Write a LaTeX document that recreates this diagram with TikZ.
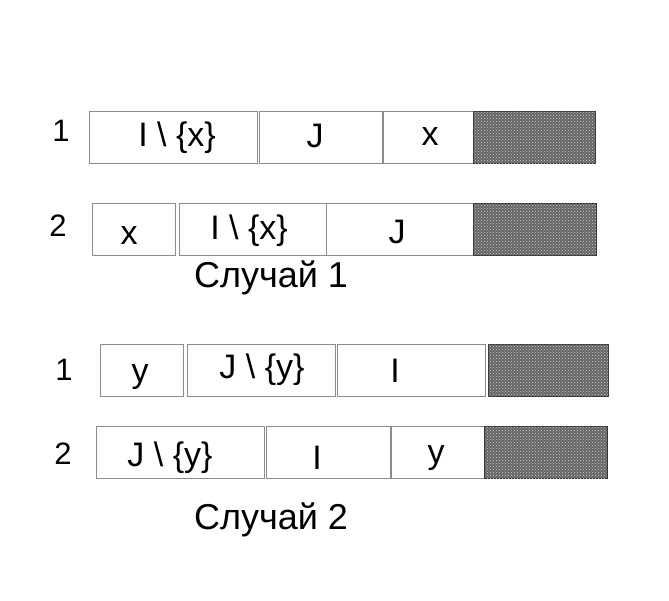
\documentclass[tikz,border=0pt]{standalone}
\usepackage{fontspec}
\setmainfont{Liberation Sans}
\usetikzlibrary{patterns,positioning}
\tikzset{
  cell/.style={draw=gray!90, line width=0.9pt, inner sep=0, minimum height=52pt, anchor=north west},
  tailbox/.style={cell, draw=gray!40!black, fill={rgb,255:red,100;green,100;blue,100},
    postaction={pattern=crosshatch dots, pattern color=gray!35}},
  txt/.style={anchor=base, inner sep=0, font=\fontsize{34}{40}\selectfont},
  numtxt/.style={txt, font=\fontsize{31}{36}\selectfont},
  casetxt/.style={anchor=base, inner sep=0, font=\fontsize{36}{42}\selectfont}
}
\newcommand{\setminusof}[2]{#1 \textbackslash{} \{#2\}}

\begin{document}
\begin{tikzpicture}[x=1pt,y=-1pt]
    \useasboundingbox (0,0) rectangle (669,600);
    % case 1, row 1
    \node[cell, minimum width=168pt] (a1) at (89,110.7) {};
    \node[cell, minimum width=123pt] (a2) at (259,110.7) {};
    \node[cell, minimum width=90pt] (a3) at (383,110.7) {};
    \node[tailbox, minimum width=122pt] (ag) at (473,110.7) {};
    % case 1, row 2
    \node[cell, minimum width=83pt] (b1) at (92,203) {};
    \node[cell, minimum width=147pt] (b2) at (179,203) {};
    \node[cell, minimum width=147pt] (b3) at (326,203) {};
    \node[tailbox, minimum width=123pt] (bg) at (473,203) {};
    % case 2, row 1
    \node[cell, minimum width=83.5pt] (c1) at (99.5,343.7) {};
    \node[cell, minimum width=147.5pt] (c2) at (187,343.7) {};
    \node[cell, minimum width=148pt] (c3) at (336.5,343.7) {};
    \node[tailbox, minimum width=120.6pt] (cg) at (487.7,343.7) {};
    % case 2, row 2
    \node[cell, minimum width=168pt] (d1) at (95.5,426) {};
    \node[cell, minimum width=124pt] (d2) at (265.6,426) {};
    \node[cell, minimum width=93pt] (d3) at (390.5,426) {};
    \node[tailbox, minimum width=122.4pt] (dg) at (484.3,426) {};

    % row numbers
    \node[numtxt] (na1) at (61,141.7) {1};
    \node[numtxt] (nb2) at (58,236.7) {2};
    \node[numtxt] (nc1) at (64,380) {1};
    \node[numtxt] (nd2) at (63,464.3) {2};

    % labels in the cells
    \node[txt] (ta1) at (177,146) {\setminusof{I}{x}};
    \node[txt] (ta2) at (315,147) {J};
    \node[txt] (ta3) at (430,145) {x};
    \node[txt] (tb1) at (129,244) {x};
    \node[txt] (tb2) at (249,239) {\setminusof{I}{x}};
    \node[txt] (tb3) at (397,243) {J};
    \node[txt] (tc1) at (140,382) {y};
    \node[txt] (tc2) at (262,378) {\setminusof{J}{y}};
    \node[txt] (tc3) at (395,382) {I};
    \node[txt] (td1) at (170,466) {\setminusof{J}{y}};
    \node[txt] (td2) at (317,469) {I};
    \node[txt] (td3) at (436,463) {y};

    % captions
    \node[casetxt] (case1) at (271,287) {Случай 1};
    \node[casetxt] (case2) at (271,529) {Случай 2};
\end{tikzpicture}
\end{document}
